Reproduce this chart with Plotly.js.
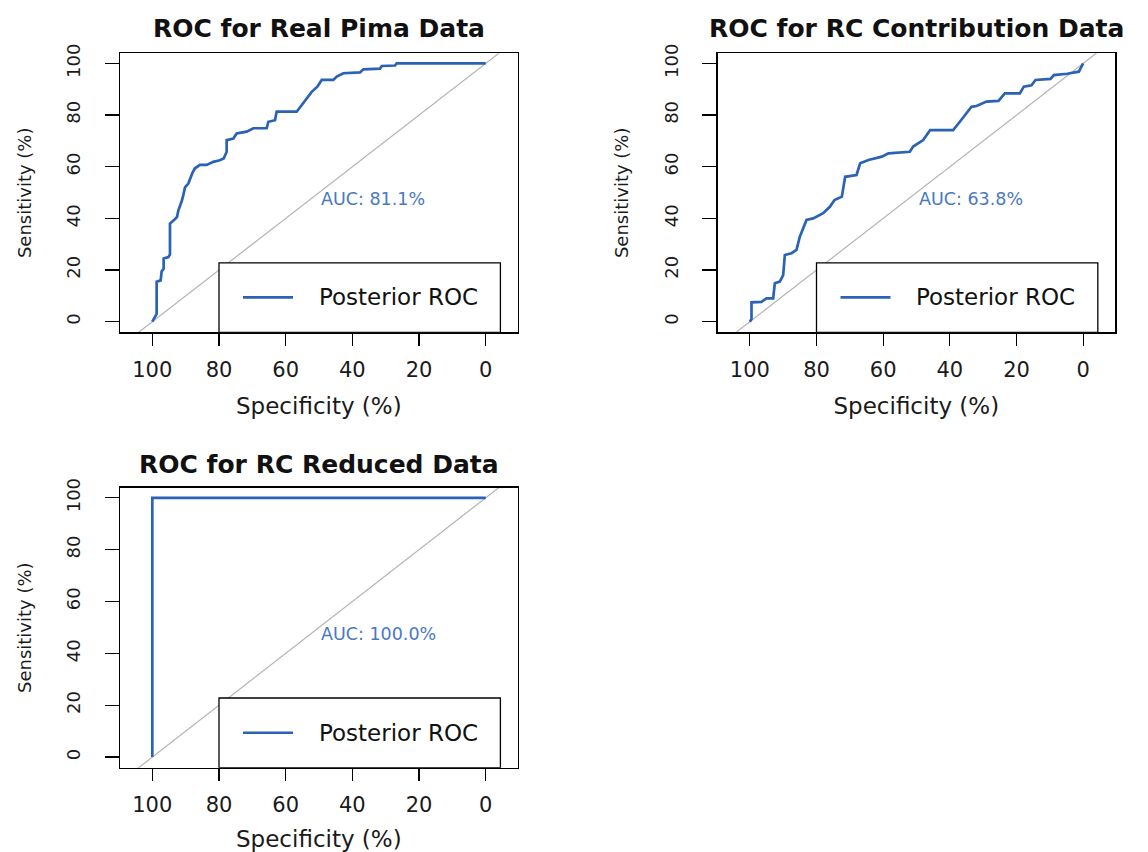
<!DOCTYPE html>
<html>
<head>
<meta charset="utf-8">
<script src="https://cdn.plot.ly/plotly-3.0.1.min.js"></script>
<style>
  html, body { margin: 0; padding: 0; background: #ffffff; }
  #chart { width: 1148px; height: 852px; }
</style>
</head>
<body>
<div id="chart"></div>
<script>
// ---- Data (specificity %, sensitivity %) ----
const specRealPima = [100, 98.7, 98.7, 97.5, 97.2, 96.6, 96.6, 95.2, 94.7, 94.7, 93.4, 92.6, 92.2, 91.6, 91.1, 90.7, 90.2, 89.2, 88.7, 88.0, 87.2, 85.7, 83.7, 81.7, 79.8, 78.6, 77.7, 77.7, 75.7, 74.7, 71.7, 69.7, 65.7, 65.2, 63.2, 62.7, 56.7, 54.7, 52.2, 50.5, 49.2, 45.7, 44.7, 42.7, 37.7, 36.7, 31.7, 31.2, 27.2, 26.7, 0];
const sensRealPima = [0, 3.0, 15.5, 16.0, 19.5, 20.5, 24.5, 25.0, 26.0, 38.0, 39.5, 40.5, 43.0, 45.0, 47.0, 49.0, 52.0, 53.5, 55.5, 57.5, 59.4, 60.7, 60.7, 61.9, 62.5, 63.2, 65.8, 70.3, 70.9, 72.9, 73.6, 74.9, 74.9, 77.4, 78.0, 81.3, 81.3, 84.6, 89.0, 91.0, 93.6, 93.6, 94.9, 96.2, 96.5, 97.7, 98.0, 99.0, 99.2, 100, 100];

const specContribution = [100, 99.5, 99.5, 96.5, 95.0, 93.0, 92.5, 91.0, 90.0, 89.5, 87.5, 86.0, 85.0, 84.0, 83.0, 81.0, 78.0, 76.0, 74.6, 72.4, 71.4, 68.0, 66.9, 64.4, 60.4, 58.4, 52.0, 51.0, 48.0, 45.9, 39.0, 37.0, 33.5, 32.0, 29.0, 25.4, 23.5, 19.0, 17.8, 15.5, 14.3, 9.8, 8.8, 4.8, 1.3, 0];
const sensContribution = [0, 1.0, 7.5, 7.7, 9.0, 9.0, 14.9, 15.5, 18.0, 25.8, 26.5, 27.8, 32.9, 36.2, 39.4, 40.0, 42.0, 44.5, 47.1, 48.4, 56.1, 56.8, 61.3, 62.6, 63.9, 65.2, 65.8, 67.8, 70.3, 74.2, 74.2, 77.4, 83.2, 83.5, 85.2, 85.5, 88.4, 88.4, 91.0, 91.5, 93.6, 94.0, 95.5, 96.0, 96.8, 100];

const specReduced = [100, 100, 0];
const sensReduced = [0, 100, 100];

// chance (identity) line, drawn across the whole plot and clipped by the axes
const chanceSpec = [115, -15];
const chanceSens = [-15, 115];

const tickValues = [0, 20, 40, 60, 80, 100];
const tickLabels = ['0', '20', '40', '60', '80', '100'];

const panelTitles = ['ROC for Real Pima Data', 'ROC for RC Contribution Data', 'ROC for RC Reduced Data'];
const aucLabels = ['AUC: 81.1%', 'AUC: 63.8%', 'AUC: 100.0%'];
const legendLabel = 'Posterior ROC';
const xTitle = 'Specificity (%)';
const yTitle = 'Sensitivity (%)';

// ---- Styling ----
const ROC_BLUE = '#2a62b5';
const AUC_BLUE = '#4a78c2';
const CHANCE_GREY = '#b4b4b4';
const FONT = 'DejaVu Sans, Verdana, sans-serif';
const TEXT = '#1a1a1a';

const series = [
  { spec: specRealPima, sens: sensRealPima },
  { spec: specContribution, sens: sensContribution },
  { spec: specReduced, sens: sensReduced }
];

const domains = [
  { x: [0.1045, 0.4510], y: [0.6100, 0.9374] },
  { x: [0.6250, 0.9714], y: [0.6100, 0.9374] },
  { x: [0.1045, 0.4510], y: [0.0989, 0.4276] }
];
const titleY = [0.966, 0.966, 0.4548];

const traces = [];
const layout = {
  width: 1148, height: 852,
  margin: { l: 0, r: 0, t: 0, b: 0 },
  paper_bgcolor: '#ffffff', plot_bgcolor: '#ffffff',
  showlegend: false,
  font: { family: FONT, color: TEXT },
  annotations: [], shapes: []
};

series.forEach((s, i) => {
  const n = i === 0 ? '' : String(i + 1);
  const xa = 'x' + n, ya = 'y' + n;
  traces.push({
    x: chanceSpec, y: chanceSens, xaxis: xa, yaxis: ya,
    mode: 'lines', line: { color: CHANCE_GREY, width: 1.2 }, hoverinfo: 'skip'
  });
  traces.push({
    x: s.spec, y: s.sens, xaxis: xa, yaxis: ya, name: legendLabel,
    mode: 'lines', line: { color: ROC_BLUE, width: 2.7 }
  });

  layout['xaxis' + n] = {
    domain: domains[i].x, anchor: ya, range: [109.7, -9.6],
    tickmode: 'array', tickvals: tickValues, ticktext: tickLabels,
    ticks: 'outside', ticklen: 12, tickwidth: 1.3, tickcolor: '#000',
    ticklabelstandoff: 6,
    showline: true, mirror: true, linecolor: '#000', linewidth: 1.4,
    showgrid: false, zeroline: false,
    tickfont: { family: FONT, size: 21, color: TEXT },
    title: { text: xTitle, font: { family: FONT, size: 23, color: TEXT }, standoff: 17 }
  };
  layout['yaxis' + n] = {
    domain: domains[i].y, anchor: xa, range: [-4.1, 103.9],
    tickmode: 'array', tickvals: tickValues, ticktext: tickLabels,
    ticks: 'outside', ticklen: 14, tickwidth: 1.3, tickcolor: '#000',
    tickangle: -90, ticklabelstandoff: 17,
    showline: true, mirror: true, linecolor: '#000', linewidth: 1.4,
    showgrid: false, zeroline: false,
    tickfont: { family: FONT, size: 18, color: TEXT },
    title: { text: yTitle, font: { family: FONT, size: 18, color: TEXT }, standoff: 27 }
  };

  // panel title
  layout.annotations.push({
    xref: 'paper', yref: 'paper',
    x: (domains[i].x[0] + domains[i].x[1]) / 2, y: titleY[i],
    xanchor: 'center', yanchor: 'middle', showarrow: false,
    text: '<b>' + panelTitles[i] + '</b>',
    font: { family: FONT, size: 25, color: '#111' }
  });
  // AUC text
  layout.annotations.push({
    xref: xa, yref: ya, x: 50, y: 47.4, xanchor: 'left', yanchor: 'middle',
    showarrow: false, text: aucLabels[i],
    font: { family: FONT, size: 17.5, color: AUC_BLUE }
  });
  // legend box (bottom right), sample line and label
  layout.shapes.push({
    type: 'rect', xref: xa, yref: ya, x0: 80, x1: -4.4, y0: -4.1, y1: 22.8,
    line: { color: '#000', width: 1.3 }, fillcolor: '#ffffff', layer: 'above'
  });
  layout.shapes.push({
    type: 'line', xref: xa, yref: ya, x0: 72.8, x1: 57.8, y0: 9.4, y1: 9.4,
    line: { color: ROC_BLUE, width: 2.7 }, layer: 'above'
  });
  layout.annotations.push({
    xref: xa, yref: ya, x: 50.7, y: 9.4, xanchor: 'left', yanchor: 'middle',
    showarrow: false, text: legendLabel,
    font: { family: FONT, size: 23, color: '#111' }
  });
});

Plotly.newPlot('chart', traces, layout, { displayModeBar: false, staticPlot: true });
</script>
</body>
</html>
